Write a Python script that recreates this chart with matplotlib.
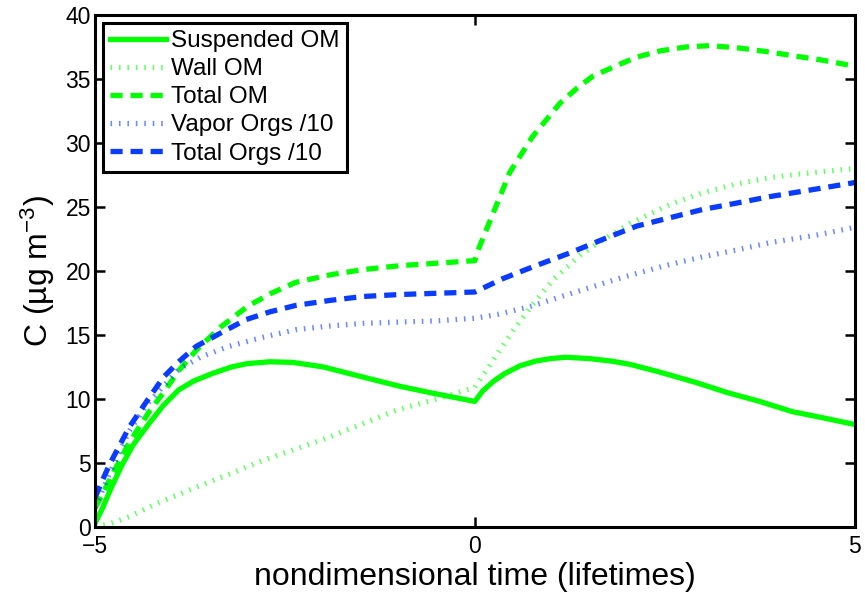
import matplotlib
matplotlib.use('Agg')
import matplotlib.pyplot as plt

plt.rcParams['font.family'] = ['Liberation Sans', 'DejaVu Sans']
plt.rcParams['mathtext.fontset'] = 'custom'
plt.rcParams['mathtext.rm'] = 'Liberation Sans'
plt.rcParams['mathtext.it'] = 'Liberation Sans:italic'

# Suspended OM (solid green)
x_susp = [-5, -4.9, -4.8, -4.65, -4.5, -4.3, -4.1, -3.9, -3.7, -3.45, -3.2, -3.0, -2.7,
          -2.4, -2.0, -1.47, -1.0, -0.6, -0.3, 0.0,
          0.1, 0.25, 0.4, 0.6, 0.8, 1.0, 1.2, 1.5, 1.8, 2.04, 2.43, 2.9, 3.32, 3.75,
          4.18, 4.6, 5.0]
y_susp = [0.3, 1.5, 2.9, 4.8, 6.4, 8.0, 9.5, 10.7, 11.4, 12.0, 12.5, 12.75, 12.9,
          12.85, 12.5, 11.7, 11.0, 10.5, 10.15, 9.8,
          10.6, 11.4, 12.0, 12.6, 12.95, 13.15, 13.25, 13.15, 12.95, 12.7, 12.1, 11.3,
          10.5, 9.8, 9.0, 8.5, 8.0]

# Wall OM (dotted green)
x_wall = [-5, -4.8, -4.55, -4.2, -3.67, -3.2, -2.79, -2.3, -1.92, -1.5, -1.04, -0.5, 0.0,
          0.25, 0.5, 0.75, 1.03, 1.38, 1.68, 2.04, 2.57, 3.0, 3.45, 3.9, 4.32, 5.0]
y_wall = [0.0, 0.25, 0.8, 1.8, 3.1, 4.2, 5.2, 6.2, 7.0, 8.0, 9.1, 10.0, 10.9,
          13.1, 15.3, 17.3, 19.3, 21.2, 22.4, 23.7, 25.2, 26.1, 26.8, 27.3, 27.6, 28.0]

# Total OM (dashed green)
x_tom = [-5, -4.9, -4.8, -4.55, -4.3, -4.1, -3.9, -3.67, -3.35, -3.0, -2.7, -2.36, -1.9,
         -1.47, -1.0, -0.5, 0.0,
         0.04, 0.24, 0.46, 0.76, 1.12, 1.35, 1.55, 1.85, 2.13, 2.45, 2.79, 3.1, 3.5,
         3.88, 4.2, 4.54, 5.0]
y_tom = [1.5, 2.6, 3.8, 6.6, 8.9, 10.5, 12.2, 13.8, 15.6, 17.2, 18.2, 19.1, 19.7,
         20.1, 20.4, 20.6, 20.8,
         21.6, 24.5, 27.7, 30.5, 33.1, 34.3, 35.2, 36.0, 36.7, 37.2, 37.5, 37.6, 37.4,
         37.1, 36.8, 36.5, 36.0]

# Vapor Orgs /10 (dotted blue)
x_vap = [-5, -4.9, -4.8, -4.55, -4.3, -4.1, -3.9, -3.6, -3.24, -2.8, -2.36, -1.9, -1.47,
         -1.0, -0.5, 0.0, 0.3, 0.72, 1.3, 1.95, 2.5, 3.0, 3.5, 3.88, 4.5, 5.0]
y_vap = [1.5, 2.9, 4.3, 7.5, 9.7, 11.0, 12.3, 13.3, 14.1, 14.8, 15.4, 15.7, 15.9,
         16.0, 16.1, 16.3, 16.6, 17.2, 18.3, 19.5, 20.4, 21.1, 21.7, 22.2, 22.8, 23.4]

# Total Orgs /10 (dashed blue)
x_torg = [-5, -4.9, -4.8, -4.55, -4.3, -4.1, -3.9, -3.67, -3.3, -3.01, -2.7, -2.36, -1.9,
          -1.47, -1.0, -0.5, 0.0, 0.37, 0.8, 1.25, 1.7, 2.13, 2.6, 3.0, 3.45, 3.88,
          4.5, 5.0]
y_torg = [2.3, 3.7, 5.0, 7.8, 10.0, 11.7, 12.9, 14.1, 15.3, 16.2, 16.8, 17.3, 17.7,
          18.0, 18.15, 18.25, 18.35, 19.4, 20.4, 21.4, 22.5, 23.5, 24.2, 24.8, 25.3,
          25.8, 26.4, 26.9]

green = '#00ff00'
blue = '#0a3cff'
lw = 3.8
dot = (0, (0.3, 1.3))
dash = (0, (2.3, 1.5))

fig = plt.figure(figsize=(8.65, 5.96), dpi=100)
ax = fig.add_axes([0.110, 0.116, 0.878, 0.859])

ax.plot(x_susp, y_susp, color=green, lw=lw, label='Suspended OM')
ax.plot(x_wall, y_wall, color=green, lw=lw, linestyle=dot, alpha=0.6, label='Wall OM')
ax.plot(x_tom, y_tom, color=green, lw=lw, linestyle=dash, label='Total OM')
ax.plot(x_vap, y_vap, color=blue, lw=lw, linestyle=dot, alpha=0.6, label='Vapor Orgs /10')
ax.plot(x_torg, y_torg, color=blue, lw=lw, linestyle=dash, label='Total Orgs /10')

ax.set_xlim(-5, 5)
ax.set_ylim(0, 40)
ax.set_xticks([-5, 0, 5])
ax.set_yticks(range(0, 41, 5))
ax.tick_params(direction='in', length=7, width=1.8, labelsize=16.5,
               top=True, right=True, pad=3)
ax.tick_params(axis='x', pad=6)
for s in ax.spines.values():
    s.set_linewidth(2.2)

ax.set_xlabel('nondimensional time (lifetimes)', fontsize=23, labelpad=3)
ax.set_ylabel('C (µg m$^{-3}$)', fontsize=23, labelpad=6)

leg = ax.legend(loc='upper left', fontsize=17.5, frameon=True, fancybox=False,
                edgecolor='black', handlelength=2.3, handletextpad=0.2,
                labelspacing=0.25, borderpad=0.3, borderaxespad=0.33)
leg.get_frame().set_linewidth(2.2)
leg.get_frame().set_alpha(1)

plt.savefig('out.png', dpi=100)
